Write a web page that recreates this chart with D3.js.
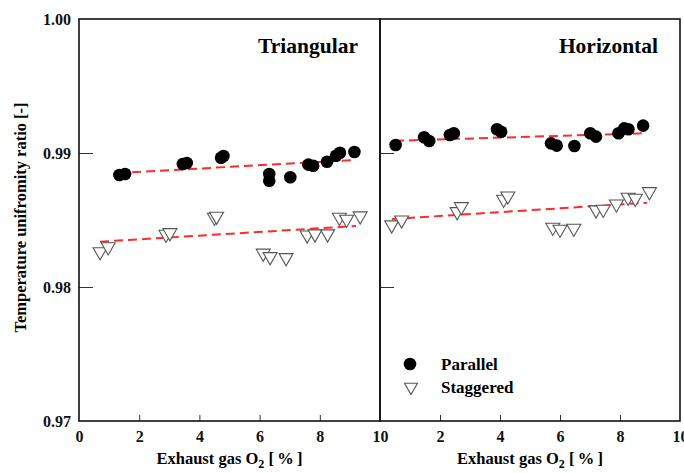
<!DOCTYPE html>
<html><head><meta charset="utf-8">
<script src="https://cdn.jsdelivr.net/npm/d3@7"></script>
<style>
body{margin:0;background:#fff;}
svg{display:block;font-family:"Liberation Serif","Times New Roman",serif;font-weight:bold;}
</style></head>
<body><svg id="c" width="684" height="473"></svg>
<script>
// ---- data ----
const panels = ["Triangular","Horizontal"];
const seriesNames = ["Parallel","Staggered"];
const xTicksLeft = [0,2,4,6,8,10];
const xTicksRight = [2,4,6,8,10];
const yTicks = [0.97,0.98,0.99,1.00];

const triParX = [1.34,1.53,3.45,3.58,4.72,4.80,6.32,6.32,7.02,7.62,7.78,8.24,8.54,8.67,9.15];
const triParY = [0.98836,0.98843,0.98918,0.98925,0.98965,0.98978,0.98843,0.98793,0.98819,0.98913,0.98905,0.98935,0.98980,0.99002,0.99007];
const triStgX = [0.70,0.97,2.89,3.02,4.50,4.57,6.12,6.35,6.88,7.58,7.84,8.26,8.65,8.89,9.34];
const triStgY = [0.98263,0.98300,0.98393,0.98405,0.98520,0.98528,0.98252,0.98226,0.98219,0.98388,0.98396,0.98396,0.98520,0.98505,0.98530];
const horParX = [0.52,1.47,1.64,2.33,2.46,3.90,4.04,5.70,5.89,6.48,7.01,7.20,7.95,8.14,8.28,8.77];
const horParY = [0.99060,0.99117,0.99090,0.99134,0.99147,0.99177,0.99159,0.99072,0.99055,0.99052,0.99147,0.99122,0.99147,0.99184,0.99177,0.99204];
const horStgX = [0.39,0.72,2.57,2.71,4.12,4.26,5.76,6.00,6.46,7.20,7.44,7.88,8.27,8.51,8.98];
const horStgY = [0.98463,0.98500,0.98562,0.98599,0.98654,0.98679,0.98445,0.98430,0.98438,0.98575,0.98580,0.98619,0.98669,0.98662,0.98711];

// fitted trend lines (end points)
const triParFitX = [1.3,9.2],  triParFitY = [0.98851,0.98948];
const triStgFitX = [0.7,9.2],  triStgFitY = [0.98338,0.98455];
const horParFitX = [0.5,8.8],  horParFitY = [0.99091,0.99147];
const horStgFitX = [0.4,8.9],  horStgFitY = [0.98507,0.98629];

// ---- layout ----
const svg = d3.select("#c");
const yTop = 19, yBot = 421;
const y = d3.scaleLinear().domain([0.97,1.00]).range([yBot, yTop]);
const xL = d3.scaleLinear().domain([0,10]).range([79,380]);
const xR = d3.scaleLinear().domain([0,10]).range([380,680]);

const zip = (a,b) => a.map((v,i)=>[v,b[i]]);
const panelDefs = [
  {name:panels[0], x:xL, par:zip(triParX,triParY), stg:zip(triStgX,triStgY),
   parFit:zip(triParFitX,triParFitY), stgFit:zip(triStgFitX,triStgFitY), labels:xTicksLeft},
  {name:panels[1], x:xR, par:zip(horParX,horParY), stg:zip(horStgX,horStgY),
   parFit:zip(horParFitX,horParFitY), stgFit:zip(horStgFitX,horStgFitY), labels:xTicksRight}
];

const triPath = (s)=>{ // downward triangle, centroid at 0
  const h = s*0.87;
  return `M${-s/2},${-h/3}L${s/2},${-h/3}L0,${2*h/3}Z`;
};

panelDefs.forEach((p,i)=>{
  const g = svg.append("g");
  const yax = d3.axisLeft(y).tickValues([0.98,0.99]).tickSizeInner(-14).tickSizeOuter(0).tickFormat("");
  g.append("g").attr("transform",`translate(${p.x.range()[0]},0)`).call(yax)
    .call(s=>s.select(".domain").remove())
    .selectAll("line").attr("stroke","#333").attr("stroke-width",1);
  const xax = d3.axisBottom(p.x).tickValues([2,4,6,8]).tickSizeInner(-6).tickSizeOuter(0).tickFormat("");
  g.append("g").attr("transform",`translate(0,${yBot})`).call(xax)
    .call(s=>s.select(".domain").remove())
    .selectAll("line").attr("stroke","#333").attr("stroke-width",1);
  const xlab = d3.axisBottom(p.x).tickValues(p.labels).tickSize(0).tickPadding(10).tickFormat(d3.format("d"));
  g.append("g").attr("transform",`translate(0,${yBot})`).call(xlab)
    .call(s=>s.select(".domain").remove())
    .selectAll("text").attr("font-size",16).attr("font-family","Liberation Serif").attr("font-weight","bold").attr("fill","#111");
  g.append("rect").attr("x",p.x.range()[0]).attr("y",yTop)
    .attr("width",p.x.range()[1]-p.x.range()[0]).attr("height",yBot-yTop)
    .attr("fill","none").attr("stroke","#111").attr("stroke-width",1.6);
  const line = d3.line().x(d=>p.x(d[0])).y(d=>y(d[1]));
  [p.parFit,p.stgFit].forEach(f=>{
    g.append("path").attr("d",line(f)).attr("fill","none")
      .attr("stroke","#ff2a2a").attr("stroke-width",2).attr("stroke-dasharray","9,5");
  });
  g.selectAll(".t").data(p.stg).enter().append("path")
    .attr("d",triPath(14)).attr("transform",d=>`translate(${p.x(d[0])},${y(d[1])})`)
    .attr("fill","#fff").attr("stroke","#555").attr("stroke-width",1.1);
  g.selectAll(".c").data(p.par).enter().append("circle")
    .attr("cx",d=>p.x(d[0])).attr("cy",d=>y(d[1])).attr("r",6.3).attr("fill","#000");
  g.append("text").attr("x",p.x.range()[1]-22).attr("y",53).attr("text-anchor","end")
    .attr("font-size",21.5).text(p.name);
  const xt = g.append("text").attr("x",(p.x.range()[0]+p.x.range()[1])/2).attr("y",464)
    .attr("text-anchor","middle").attr("font-size",16.5);
  xt.append("tspan").text("Exhaust gas O");
  xt.append("tspan").attr("font-size",12).attr("dy",4).text("2");
  xt.append("tspan").attr("dy",-4).text(" [\u2009%\u2009]");
});

const ylab = d3.axisLeft(y).tickValues(yTicks).tickSize(0).tickPadding(8).tickFormat(d3.format(".2f"));
svg.append("g").attr("transform","translate(79,0)").call(ylab)
  .call(s=>s.select(".domain").remove())
  .selectAll("text").attr("font-size",16).attr("font-family","Liberation Serif").attr("font-weight","bold").attr("fill","#111");

svg.append("text").attr("transform","translate(26,217.5) rotate(-90)")
  .attr("text-anchor","middle").attr("font-size",16.5)
  .text("Temperature unifromity ratio [-]");

const lg = svg.append("g");
lg.append("circle").attr("cx",410).attr("cy",364).attr("r",6.3).attr("fill","#000");
lg.append("path").attr("d",triPath(13)).attr("transform","translate(411,387)")
  .attr("fill","#fff").attr("stroke","#555").attr("stroke-width",1.1);
lg.append("text").attr("x",441).attr("y",370).attr("font-size",17).text(seriesNames[0]);
lg.append("text").attr("x",441).attr("y",393).attr("font-size",17).text(seriesNames[1]);
</script></body></html>
